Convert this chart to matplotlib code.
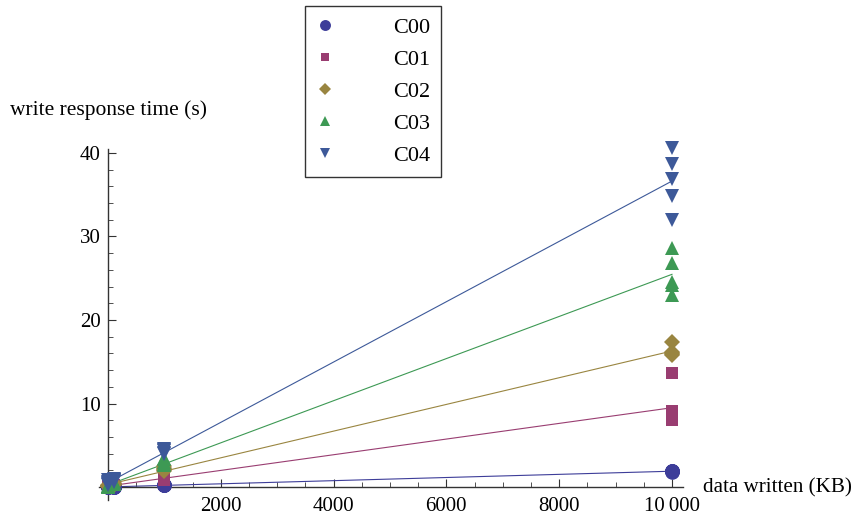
from matplotlib import pyplot as plt
import numpy as np

plt.rcParams['font.family'] = ['Liberation Serif', 'DejaVu Serif']

# data written (KB), 5 runs per size
sizes = [10, 100, 1000, 10000]

c00 = [[0.01, 0.02, 0.01, 0.02, 0.01],
       [0.03, 0.02, 0.04, 0.03, 0.02],
       [0.20, 0.22, 0.19, 0.21, 0.20],
       [1.90, 1.86, 1.95, 1.90, 1.88]]
c01 = [[0.10, 0.15, 0.08, 0.12, 0.10],
       [0.20, 0.25, 0.30, 0.22, 0.28],
       [0.90, 1.00, 1.20, 0.95, 1.10],
       [13.6, 9.1, 8.6, 8.2, 8.0]]
c02 = [[0.15, 0.20, 0.10, 0.18, 0.12],
       [0.35, 0.40, 0.30, 0.45, 0.38],
       [2.5, 2.2, 1.9, 2.0, 2.3],
       [17.4, 16.2, 15.9, 16.0, 15.8]]
c03 = [[0.05, 0.10, 0.08, 0.12, 0.06],
       [0.40, 0.50, 0.35, 0.45, 0.55],
       [3.3, 3.0, 2.8, 3.5, 2.6],
       [28.6, 26.8, 24.6, 24.2, 23.0]]
c04 = [[0.30, 0.50, 0.80, 0.40, 0.60],
       [0.90, 0.70, 1.00, 0.80, 0.60],
       [4.6, 4.3, 4.1, 3.9, 4.4],
       [40.6, 38.7, 36.9, 34.9, 32.0]]

names = ["C00", "C01", "C02", "C03", "C04"]
series = [c00, c01, c02, c03, c04]
colors = ["#3d3d99", "#993d71", "#998540", "#3d9954", "#3d5999"]
markers = ["o", "s", "D", "^", "v"]
msizes = [10.5, 8.5, 8.5, 9.5, 9.5]

fig = plt.figure(figsize=(8.56, 5.19), dpi=100)
ax = fig.add_axes([0.1162, 0.0374, 0.682, 0.676])

for name, vals, c, m, ms in zip(names, series, colors, markers, msizes):
    xs = []
    ys = []
    for s, runs in zip(sizes, vals):
        for v in runs:
            xs.append(s)
            ys.append(v)
    k, b = np.polyfit(xs, ys, 1)
    ax.plot([0, 10000], [b, k * 10000 + b], color=c, lw=0.8, zorder=2)
    ax.plot(xs, ys, ls='none', marker=m, color=c, ms=ms, mew=0, label=name,
            zorder=3, clip_on=False)

ax.set_xlim(-150, 10200)
ax.set_ylim(-1.5, 40.5)

ax.spines['left'].set_position(('data', 0))
ax.spines['bottom'].set_position(('data', 0))
ax.spines['right'].set_visible(False)
ax.spines['top'].set_visible(False)
for sp in ['left', 'bottom']:
    ax.spines[sp].set_color('#333333')
    ax.spines[sp].set_linewidth(1.0)

ax.set_xticks([2000, 4000, 6000, 8000, 10000])
ax.set_xticklabels(["2000", "4000", "6000", "8000", "10\u2009000"])
ax.set_xticks(np.arange(500, 10001, 500), minor=True)
ax.set_yticks([10, 20, 30, 40])
ax.set_yticks(np.arange(2, 41, 2), minor=True)
ax.tick_params(which='both', direction='in', colors='#333333', labelcolor='black', labelsize=15)
ax.tick_params(which='major', length=6)
ax.tick_params(which='minor', length=3.5)
ax.tick_params(axis='x', pad=7)
ax.tick_params(axis='y', pad=5)

fig.text(10 / 856, 1 - 110 / 519, "write response time (s)", fontsize=15.5, va='center', ha='left')
fig.text(703 / 856, 1 - 488 / 519, "data written (KB)", fontsize=15.2, va='center', ha='left')

leg = ax.legend(loc='upper left', bbox_to_anchor=(305 / 856, 1 - 6 / 519),
                bbox_transform=fig.transFigure, fancybox=False, borderaxespad=0,
                fontsize=16, handletextpad=2.65, labelspacing=0.52, borderpad=0.5,
                handlelength=0.8, markerscale=0.75, framealpha=1)
leg.get_frame().set_edgecolor('#333333')
leg.get_frame().set_linewidth(1.0)

plt.savefig("out.png")
